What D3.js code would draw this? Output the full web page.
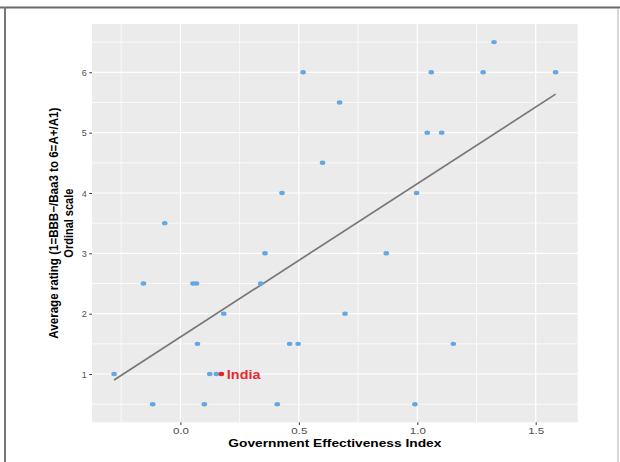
<!DOCTYPE html>
<html>
<head>
<meta charset="utf-8">
<script src="https://cdn.jsdelivr.net/npm/d3@7"></script>
<style>
  html, body { margin: 0; padding: 0; background: #fff; }
  svg { display: block; font-family: "Liberation Sans", Arial, Helvetica, sans-serif; }
</style>
</head>
<body>
<svg id="chart" width="620" height="462"></svg>
<script>
// ---- data ----
const govEffectiveness = [-0.280, -0.156, -0.117, -0.066, 0.053, 0.068, 0.072, 0.101, 0.124, 0.152,
  0.173, 0.183, 0.339, 0.357, 0.409, 0.429, 0.461, 0.497, 0.518, 0.600,
  0.672, 0.695, 0.869, 0.990, 0.997, 1.042, 1.059, 1.103, 1.152, 1.278, 1.324, 1.584];
const avgRating = [1, 2.5, 0.5, 3.5, 2.5, 2.5, 1.5, 0.5, 1, 1,
  1, 2, 2.5, 3, 0.5, 4, 1.5, 1.5, 6, 4.5,
  5.5, 2, 3, 0.5, 4, 5, 6, 5, 1.5, 6, 6.5, 6];
const countryLabels = ["", "", "", "", "", "", "", "", "", "",
  "India", "", "", "", "", "", "", "", "", "",
  "", "", "", "", "", "", "", "", "", "", "", ""];
const xTicks = [0.0, 0.5, 1.0, 1.5];
const yTicks = [1, 2, 3, 4, 5, 6];
const xTitle = "Government Effectiveness Index";
const yTitleLines = ["Average rating (1=BBB\u2212/Baa3 to 6=A+/A1)", "Ordinal scale"];

// ---- layout ----
const svg = d3.select("#chart");
const panel = { left: 92, right: 577.7, top: 24, bottom: 422.3 };

// frame of the screenshot
svg.append("line").attr("x1", 0).attr("x2", 620).attr("y1", 7.5).attr("y2", 7.5)
  .attr("stroke", "#6a6a6a").attr("stroke-width", 2);
svg.append("line").attr("x1", 5).attr("x2", 5).attr("y1", 7).attr("y2", 462)
  .attr("stroke", "#777").attr("stroke-width", 2);
svg.append("line").attr("x1", 618).attr("x2", 618).attr("y1", 8).attr("y2", 462)
  .attr("stroke", "#b0b0b0").attr("stroke-width", 1);

// ggplot-style expanded domains (5%)
const xExt = d3.extent(govEffectiveness), yExt = d3.extent(avgRating);
const xPad = (xExt[1] - xExt[0]) * 0.05, yPad = (yExt[1] - yExt[0]) * 0.05;
const x = d3.scaleLinear().domain([xExt[0] - xPad, xExt[1] + xPad]).range([panel.left, panel.right]);
const y = d3.scaleLinear().domain([yExt[0] - yPad, yExt[1] + yPad]).range([panel.bottom, panel.top]);

// panel background
svg.append("rect").attr("x", panel.left).attr("y", panel.top)
  .attr("width", panel.right - panel.left).attr("height", panel.bottom - panel.top)
  .attr("fill", "#EBEBEB");

// minor grid
const xMinor = xTicks.map(t => t - 0.25).concat([xTicks[xTicks.length - 1] + 0.25])
  .filter(v => x(v) > panel.left && x(v) < panel.right);
const yMinor = yTicks.map(t => t - 0.5).concat([yTicks[yTicks.length - 1] + 0.5])
  .filter(v => y(v) > panel.top && y(v) < panel.bottom);
const grid = svg.append("g");
grid.selectAll(".vmin").data(xMinor).join("line")
  .attr("x1", d => x(d)).attr("x2", d => x(d)).attr("y1", panel.top).attr("y2", panel.bottom)
  .attr("stroke", "#fff").attr("stroke-width", 0.7);
grid.selectAll(".hmin").data(yMinor).join("line")
  .attr("y1", d => y(d)).attr("y2", d => y(d)).attr("x1", panel.left).attr("x2", panel.right)
  .attr("stroke", "#fff").attr("stroke-width", 0.7);
// major grid
grid.selectAll(".vmaj").data(xTicks).join("line")
  .attr("x1", d => x(d)).attr("x2", d => x(d)).attr("y1", panel.top).attr("y2", panel.bottom)
  .attr("stroke", "#fff").attr("stroke-width", 1.2);
grid.selectAll(".hmaj").data(yTicks).join("line")
  .attr("y1", d => y(d)).attr("y2", d => y(d)).attr("x1", panel.left).attr("x2", panel.right)
  .attr("stroke", "#fff").attr("stroke-width", 1.2);

// axes
const xAxis = svg.append("g").attr("transform", `translate(0,${panel.bottom})`)
  .call(d3.axisBottom(x).tickValues(xTicks).tickFormat(d3.format(".1f")).tickSize(2.7).tickPadding(2));
const yAxis = svg.append("g").attr("transform", `translate(${panel.left},0)`)
  .call(d3.axisLeft(y).tickValues(yTicks).tickFormat(d3.format("d")).tickSize(2.7).tickPadding(2.5));
[xAxis, yAxis].forEach(a => {
  a.select(".domain").remove();
  a.selectAll(".tick line").attr("stroke", "#333").attr("stroke-width", 1);
  a.selectAll(".tick text").attr("fill", "#4D4D4D").attr("font-size", 9)
    .attr("font-family", "'Liberation Sans', Arial, sans-serif");
});
xAxis.selectAll(".tick text").attr("textLength", 16).attr("lengthAdjust", "spacingAndGlyphs")
  .attr("dy", "0.78em");
yAxis.selectAll(".tick text").attr("dy", "0.34em");

// regression line (least squares from the data)
const mx = d3.mean(govEffectiveness), my = d3.mean(avgRating);
let sxy = 0, sxx = 0;
govEffectiveness.forEach((v, i) => { sxy += (v - mx) * (avgRating[i] - my); sxx += (v - mx) * (v - mx); });
const slope = sxy / sxx, intercept = my - slope * mx;
svg.append("line")
  .attr("x1", x(xExt[0])).attr("y1", y(intercept + slope * xExt[0]))
  .attr("x2", x(xExt[1])).attr("y2", y(intercept + slope * xExt[1]))
  .attr("stroke", "#777777").attr("stroke-width", 1.7);

// points
const pts = govEffectiveness.map((v, i) => ({ x: v, y: avgRating[i], label: countryLabels[i] }));
svg.append("g").selectAll("ellipse").data(pts.filter(d => !d.label)).join("ellipse")
  .attr("cx", d => x(d.x)).attr("cy", d => y(d.y)).attr("rx", 2.8).attr("ry", 2.2)
  .attr("fill", "#63A8E2");
svg.append("g").selectAll("ellipse").data(pts.filter(d => d.label)).join("ellipse")
  .attr("cx", d => x(d.x)).attr("cy", d => y(d.y)).attr("rx", 2.8).attr("ry", 2.2)
  .attr("fill", "#E8202A");
svg.append("g").selectAll("text").data(pts.filter(d => d.label)).join("text")
  .attr("x", d => x(d.x) + 5.5).attr("y", d => y(d.y) + 4.6)
  .attr("fill", "#E8282E").attr("font-weight", "bold").attr("font-size", 12.5)
  .attr("textLength", 33.5).attr("lengthAdjust", "spacingAndGlyphs")
  .text(d => d.label);

// axis titles
svg.append("text").attr("x", (panel.left + panel.right) / 2 + 0).attr("y", 446.5)
  .attr("text-anchor", "middle").attr("font-weight", "bold").attr("font-size", 11)
  .attr("fill", "#000").attr("textLength", 213).attr("lengthAdjust", "spacingAndGlyphs")
  .text(xTitle);
const yMid = (panel.top + panel.bottom) / 2;
const yTitleG = svg.append("g");
yTitleG.append("text").attr("transform", `translate(58,${yMid}) rotate(-90)`)
  .attr("text-anchor", "middle").attr("font-weight", "bold").attr("font-size", 12.5)
  .attr("fill", "#000").attr("textLength", 231).attr("lengthAdjust", "spacingAndGlyphs")
  .text(yTitleLines[0]);
yTitleG.append("text").attr("transform", `translate(72.5,${yMid}) rotate(-90)`)
  .attr("text-anchor", "middle").attr("font-weight", "bold").attr("font-size", 12.5)
  .attr("fill", "#000").attr("textLength", 69).attr("lengthAdjust", "spacingAndGlyphs")
  .text(yTitleLines[1]);
</script>
</body>
</html>
